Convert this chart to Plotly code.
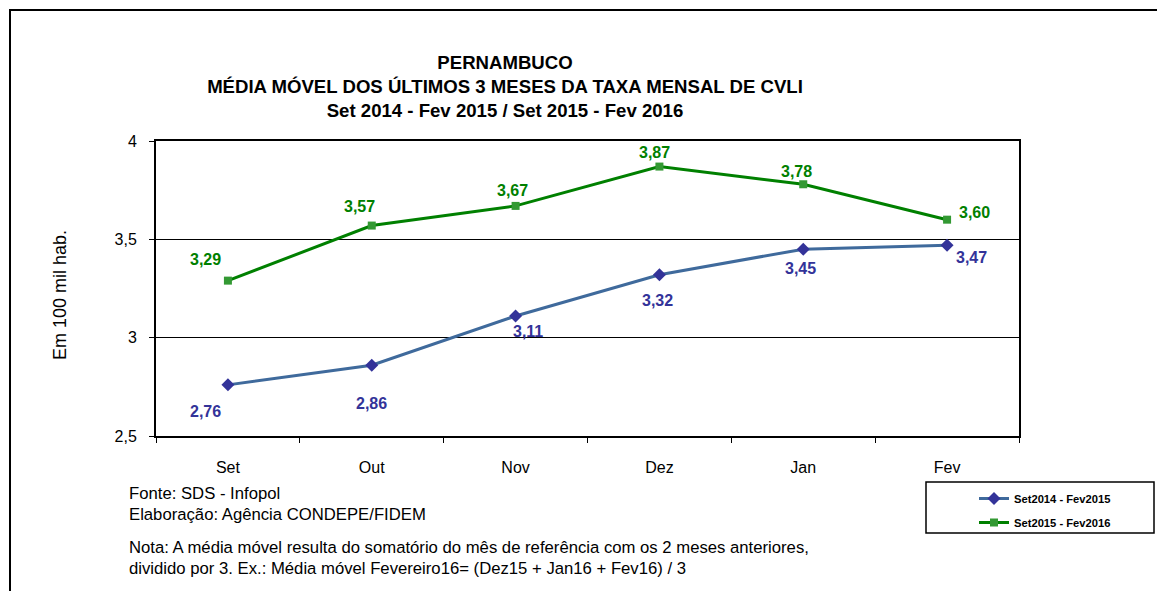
import plotly.graph_objects as go

months = ["Set", "Out", "Nov", "Dez", "Jan", "Fev"]
serie_2014 = [2.76, 2.86, 3.11, 3.32, 3.45, 3.47]
serie_2015 = [3.29, 3.57, 3.67, 3.87, 3.78, 3.60]
name_2014 = "Set2014 - Fev2015"
name_2015 = "Set2015 - Fev2016"

# label offsets (px) relative to each point
off_2014 = [(-22, -27), (0, -38), (12, -15), (-2, -26), (-3, -19), (24, -12)]
off_2015 = [(-22, 21), (-12, 19), (-3, 15), (-5, 14), (-7, 13), (27, 7)]

OFF = 8  # page body margin
W, H = 1165 - OFF, 591 - OFF
# plot area in reference-image pixels
L, R, T, B = 156, 1019, 141, 436
pw, ph = R - L, B - T


def px(x):
    return (x - L) / pw


def py(y):
    return (B - y) / ph


BLUE_LINE = "#3F6A9C"
BLUE_MK = "#333399"
GREEN_LINE = "#008000"
GREEN_MK = "#339933"
FONT = "Liberation Sans, Arial"

fig = go.Figure()
fig.add_trace(go.Scatter(
    x=months, y=serie_2014, name=name_2014, mode="lines+markers",
    line=dict(color=BLUE_LINE, width=3),
    marker=dict(symbol="diamond", size=10, color=BLUE_MK),
    legendgroup="a",
))
fig.add_trace(go.Scatter(
    x=months, y=serie_2015, name=name_2015, mode="lines+markers",
    line=dict(color=GREEN_LINE, width=3),
    marker=dict(symbol="square", size=8, color=GREEN_MK),
    legendgroup="b",
))

annotations = []
for m, v, (dx, dy) in zip(months, serie_2014, off_2014):
    annotations.append(dict(x=m, y=v, xref="x", yref="y", text=f"{v:.2f}".replace(".", ","),
                            showarrow=False, xshift=dx, yshift=dy,
                            font=dict(family=FONT, size=16, color=BLUE_MK, weight="bold")))
for m, v, (dx, dy) in zip(months, serie_2015, off_2015):
    annotations.append(dict(x=m, y=v, xref="x", yref="y", text=f"{v:.2f}".replace(".", ","),
                            showarrow=False, xshift=dx, yshift=dy,
                            font=dict(family=FONT, size=16, color=GREEN_LINE, weight="bold")))

# y axis title
annotations.append(dict(x=px(60), y=py(295), xref="paper", yref="paper", text="Em 100 mil hab.",
                        textangle=-90, showarrow=False, xanchor="center", yanchor="middle",
                        font=dict(family=FONT, size=18, color="black")))

# footer
footer = [
    ("Fonte: SDS - Infopol", 493),
    ("Elaboração: Agência CONDEPE/FIDEM", 514),
    ("Nota: A média móvel resulta do somatório do mês de referência com os 2 meses anteriores,", 547),
    ("dividido por 3. Ex.: Média móvel Fevereiro16= (Dez15 + Jan16 + Fev16) / 3", 568),
]
for txt, yy in footer:
    annotations.append(dict(x=px(127), y=py(yy), xref="paper", yref="paper", text=txt,
                            xanchor="left", yanchor="middle", showarrow=False,
                            font=dict(family=FONT, size=16.7, color="black")))

shapes = [
    # outer frame
    dict(type="rect", xref="paper", yref="paper", x0=px(10), x1=px(1175), y0=py(605), y1=py(10),
         line=dict(color="black", width=2), layer="below"),
    # legend box
    dict(type="rect", xref="paper", yref="paper", x0=px(926), x1=px(1154), y0=py(533), y1=py(482),
         line=dict(color="black", width=1.5)),
]

fig.update_layout(
    width=W, height=H,
    margin=dict(l=L - OFF, r=W - (R - OFF), t=T - OFF, b=H - (B - OFF)),
    paper_bgcolor="white", plot_bgcolor="white",
    separators=",.",
    title=dict(
        text="<b>PERNAMBUCO<br>MÉDIA MÓVEL DOS ÚLTIMOS 3 MESES DA TAXA MENSAL DE CVLI<br>Set 2014 - Fev 2015 / Set 2015 - Fev 2016</b>",
        x=(505 - OFF) / W, xanchor="center", xref="container",
        y=1 - (69 - OFF) / H, yanchor="middle", yref="container",
        font=dict(family=FONT, size=18.6, color="black"),
    ),
    xaxis=dict(
        type="category", range=[-0.5, 5.5], showgrid=False,
        showline=True, linecolor="black", linewidth=2, mirror=True,
        ticks="outside", tickson="boundaries", ticklen=5, tickcolor="black",
        ticklabelstandoff=16,
        tickfont=dict(family=FONT, size=16, color="black"),
    ),
    yaxis=dict(
        range=[2.5, 4], dtick=0.5, tick0=2.5,
        showgrid=True, gridcolor="black", gridwidth=1.2,
        showline=True, linecolor="black", linewidth=2, mirror=True,
        ticks="outside", ticklen=5, tickcolor="black", zeroline=False,
        ticklabelstandoff=9,
        tickfont=dict(family=FONT, size=16, color="black"),
    ),
    legend=dict(
        x=px(974), y=py(484), xanchor="left", yanchor="top",
        bgcolor="rgba(0,0,0,0)", borderwidth=0, tracegroupgap=5,
        font=dict(family=FONT, size=11.2, color="black", weight="bold"),
    ),
    annotations=annotations,
    shapes=shapes,
    showlegend=True,
)

fig.write_html("out.html")
